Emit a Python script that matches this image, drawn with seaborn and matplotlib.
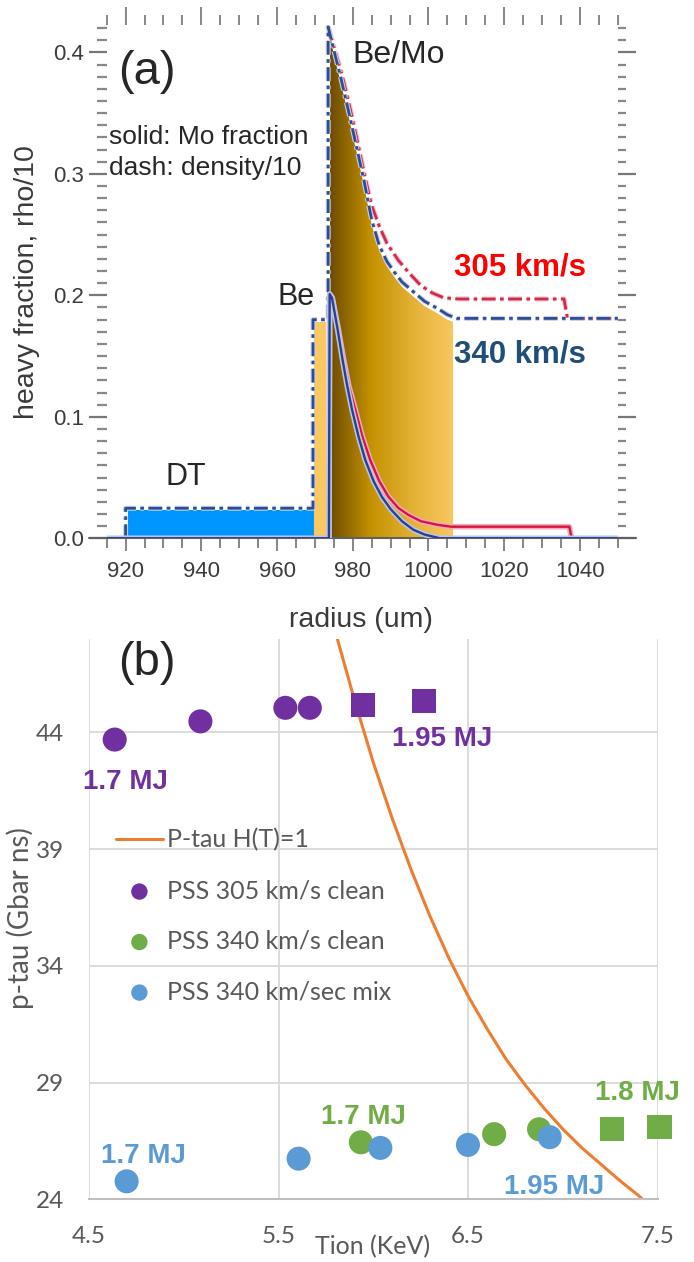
import numpy as np
import matplotlib
matplotlib.use("Agg")
import matplotlib.pyplot as plt
import matplotlib.patheffects as pe
from matplotlib.colors import LinearSegmentedColormap
from matplotlib.ticker import MultipleLocator
import seaborn as sns

# ---- (a) radial profiles, radius in um ----
dt_r = [920.6, 969.7]
dt_top = [0.0233, 0.0233]
be_r = [969.8, 973.0]
be_top = [0.178, 0.178]
bemo_r = [974.0, 975, 977, 979, 981, 983, 985, 987, 989, 991, 993, 996, 999, 1002.5, 1005, 1006.5]
bemo_top = [0.415, 0.398, 0.373, 0.346, 0.318, 0.290, 0.258, 0.237, 0.224, 0.215, 0.207, 0.199,
            0.191, 0.185, 0.180, 0.178]

# density/10 (dash-dot)
rho340_r = [920, 920, 969.5, 969.5, 973.5, 973.5, 975, 977, 979, 981, 983, 985, 987, 989, 991, 993,
            996, 999, 1002.5, 1005, 1007.5, 1050]
rho340 = [0, 0.0247, 0.0247, 0.18, 0.18, 0.421, 0.402, 0.377, 0.350, 0.322, 0.294, 0.262, 0.241,
          0.228, 0.219, 0.211, 0.203, 0.195, 0.189, 0.184, 0.181, 0.181]
rho305_r = [973.5, 975.2, 977.3, 979.3, 981.3, 983.2, 985, 987, 989, 992, 995, 998, 1001, 1004,
            1008, 1035.8, 1036.7, 1050]
rho305 = [0.421, 0.403, 0.380, 0.354, 0.326, 0.298, 0.274, 0.257, 0.243, 0.229, 0.218, 0.208,
          0.202, 0.198, 0.197, 0.197, 0.181, 0.181]

# Mo fraction (solid)
mo340_r = [915, 973.7, 973.9, 974.5, 976, 977.3, 978.5, 979.8, 981.5, 983.3, 985.5, 987.7, 990,
           993, 996, 999, 1003, 1050]
mo340 = [0, 0, 0.201, 0.198, 0.172, 0.147, 0.126, 0.106, 0.084, 0.0645, 0.047, 0.034, 0.024,
         0.014, 0.007, 0.003, 0, 0]
mo305_r = [973.7, 973.9, 974.6, 976.2, 977.6, 979, 980.7, 982.5, 984.6, 987, 989.4, 992, 994.7,
           998, 1002.5, 1006, 1037.2, 1037.8]
mo305 = [0, 0.201, 0.198, 0.172, 0.147, 0.125, 0.1056, 0.084, 0.0645, 0.047, 0.0343, 0.025,
         0.0192, 0.014, 0.011, 0.0095, 0.0095, 0]

# ---- (b) p-tau vs Tion ----
ptau_T = [5.80, 5.90, 6.00, 6.10, 6.20, 6.30, 6.40, 6.50, 6.60, 6.70, 6.80, 6.90, 7.00, 7.10,
          7.20, 7.30, 7.40, 7.42]
ptau_H1 = [48.3, 45.4, 42.7, 40.3, 38.1, 36.1, 34.3, 32.7, 31.3, 30.0, 28.9, 27.9, 27.0, 26.2,
           25.5, 24.8, 24.15, 24.0]

pss305_T = [4.636, 5.088, 5.536, 5.665]
pss305_pt = [43.69, 44.47, 45.05, 45.05]
pss305_sq_T = [5.945, 6.265]
pss305_sq_pt = [45.19, 45.36]

pss340_T = [5.934, 6.637, 6.874]
pss340_pt = [26.44, 26.79, 27.0]
pss340_sq_T = [7.261, 7.509]
pss340_sq_pt = [27.01, 27.1]

mix340_T = [4.699, 5.606, 6.037, 6.499, 6.930]
mix340_pt = [24.77, 25.74, 26.2, 26.33, 26.66]

sns.set_style("white")
plt.rcParams['font.family'] = ['Liberation Sans', 'DejaVu Sans']

fig = plt.figure(figsize=(6.94, 12.62), dpi=100)

# ================= (a) =================
ax = fig.add_axes([0.1537, 0.5735, 0.7365, 0.4067])

ax.fill_between(dt_r, 0, dt_top, color='#0096FF', lw=0, zorder=1)
ax.fill_between(be_r, 0, be_top, color='#F9C860', lw=0, zorder=1)
poly = ax.fill_between(bemo_r, 0, bemo_top, facecolor='none', lw=0, zorder=1)
gold = LinearSegmentedColormap.from_list('gold', [(0, '#6E4C00'), (0.33, '#C49200'),
                                                  (0.7, '#E6B43A'), (1, '#F8C862')])
im = ax.imshow(np.linspace(0, 1, 256).reshape(1, -1), cmap=gold, aspect='auto',
               extent=[bemo_r[0], bemo_r[-1], 0, max(bemo_top)], zorder=1)
im.set_clip_path(poly.get_paths()[0], transform=ax.transData)

dashdot = (0, (5, 1.6, 1.3, 1.6))
sns.lineplot(x=rho305_r, y=rho305, sort=False, estimator=None, color='#D2284C', lw=2.0, ax=ax)
ax.lines[-1].set_linestyle(dashdot)
ax.lines[-1].set_path_effects([pe.Stroke(linewidth=3.6, foreground='#F6C4CE'), pe.Normal()])
sns.lineplot(x=rho340_r, y=rho340, sort=False, estimator=None, color='#2E4C96', lw=2.0, ax=ax)
ax.lines[-1].set_linestyle(dashdot)
ax.lines[-1].set_path_effects([pe.Stroke(linewidth=3.6, foreground='#C8D2EA'), pe.Normal()])

sns.lineplot(x=mo305_r, y=mo305, sort=False, estimator=None, color='#D4163E', lw=1.7, ax=ax)
ax.lines[-1].set_path_effects([pe.Stroke(linewidth=4.0, foreground='#F3A9B8'), pe.Normal()])
sns.lineplot(x=mo340_r, y=mo340, sort=False, estimator=None, color='#2B3F8F', lw=1.7, ax=ax)
ax.lines[-1].set_path_effects([pe.Stroke(linewidth=4.0, foreground='#B9C6E6'), pe.Normal()])
for ln in ax.lines:
    ln.set_zorder(3)

ax.set_xlim(915, 1050)
ax.set_ylim(0, 0.4226)
for s in ax.spines.values():
    s.set_visible(False)
ax.plot([-0.035, 1.035], [0, 0], transform=ax.get_yaxis_transform(), color='#606060', lw=1.5,
        clip_on=False, zorder=2)

ax.set_xticks(np.arange(920, 1041, 20))
ax.xaxis.set_minor_locator(MultipleLocator(5))
ax.set_yticks([0.0, 0.1, 0.2, 0.3, 0.4])
ax.set_yticklabels(['0.0', '0.1', '0.2', '0.3', '0.4'])
ax.yaxis.set_minor_locator(MultipleLocator(0.01))
ax.tick_params(axis='x', which='major', bottom=True, direction='out', length=9.5, width=1.1,
               color='#666666', labelsize=16, labelcolor='#3c3c3c', pad=7)
ax.tick_params(axis='x', which='minor', bottom=True, direction='out', length=7, width=1.1,
               color='#666666')
ax.tick_params(axis='y', which='major', left=True, direction='out', length=12.8, width=1.6,
               color='#777777', labelsize=16, labelcolor='#3c3c3c', pad=3.5)
ax.tick_params(axis='y', which='minor', left=True, direction='out', length=7.5, width=1.6,
               color='#888888')

top = ax.secondary_xaxis('top')
top.set_xticks(np.arange(920, 1041, 20))
top.xaxis.set_minor_locator(MultipleLocator(5))
top.tick_params(which='major', direction='out', length=13, width=1.1, color='#666666',
                labeltop=False)
top.tick_params(which='minor', direction='out', length=7, width=1.1, color='#666666')
right = ax.secondary_yaxis('right')
right.set_yticks([0.0, 0.1, 0.2, 0.3, 0.4])
right.yaxis.set_minor_locator(MultipleLocator(0.01))
right.tick_params(which='major', direction='out', length=13, width=1.6, color='#777777',
                  labelright=False)
right.tick_params(which='minor', direction='out', length=6, width=1.6, color='#888888')
for sec in (top, right):
    for s in sec.spines.values():
        s.set_visible(False)

ax.text(925.5, 0.384, '(a)', fontsize=34, ha='center', va='center')
ax.text(992.0, 0.398, 'Be/Mo', fontsize=23, ha='center', va='center')
ax.text(915.6, 0.3304, 'solid: Mo fraction', fontsize=19, ha='left', va='center')
ax.text(915.6, 0.305, 'dash: density/10', fontsize=19, ha='left', va='center')
ax.text(965.0, 0.1987, 'Be', fontsize=22, ha='center', va='center')
ax.text(935.8, 0.0507, 'DT', fontsize=22, ha='center', va='center')
ax.text(1024.1, 0.2226, '305 km/s', fontsize=22.5, fontweight='bold', color='#FF0000',
        ha='center', va='center')
ax.text(1024.1, 0.151, '340 km/s', fontsize=22.5, fontweight='bold', color='#1F4E79',
        ha='center', va='center')

fig.text(0.0385, 0.7765, 'heavy fraction, rho/10', rotation=90, fontsize=20.5, color='#3a3a3a',
         ha='center', va='center')
fig.text(0.520, 0.5087, 'radius (um)', fontsize=20.5, color='#3a3a3a', ha='center', va='center')

# ================= (b) =================
ax2 = fig.add_axes([0.1281, 0.0497, 0.8197, 0.4440])
purple, green, blue, orange = '#7030A0', '#70AD47', '#5B9BD5', '#ED7D31'

sns.lineplot(x=ptau_T, y=ptau_H1, sort=False, estimator=None, color=orange, lw=2.2,
             label='P-tau H(T)=1', ax=ax2)
sns.scatterplot(x=pss305_T, y=pss305_pt, color=purple, s=300, marker='o', edgecolor='none',
                label='PSS 305 km/s clean', ax=ax2, clip_on=False, zorder=4)
sns.scatterplot(x=pss305_sq_T, y=pss305_sq_pt, color=purple, s=300, marker='s',
                edgecolor='none', ax=ax2, clip_on=False, zorder=4)
sns.scatterplot(x=pss340_T, y=pss340_pt, color=green, s=300, marker='o', edgecolor='none',
                label='PSS 340 km/s clean', ax=ax2, clip_on=False, zorder=4)
sns.scatterplot(x=pss340_sq_T, y=pss340_sq_pt, color=green, s=300, marker='s',
                edgecolor='none', ax=ax2, clip_on=False, zorder=4)
sns.scatterplot(x=mix340_T, y=mix340_pt, color=blue, s=300, marker='o', edgecolor='none',
                label='PSS 340 km/sec mix', ax=ax2, clip_on=False, zorder=5)

ax2.set_xlim(4.5, 7.5)
ax2.set_ylim(24, 48)
ax2.set_xticks([4.5, 5.5, 6.5, 7.5])
ax2.set_xticklabels(['4.5', '5.5', '6.5', '7.5'])
ax2.set_yticks([24, 29, 34, 39, 44])
ax2.grid(True, color='#d9d9d9', lw=1.3)
ax2.set_axisbelow(True)
for k in ('top', 'right', 'left'):
    ax2.spines[k].set_visible(False)
ax2.spines['bottom'].set_color('#bfbfbf')
ax2.spines['bottom'].set_linewidth(1.5)
ax2.tick_params(length=0, labelsize=17.5, labelcolor='#595959')
ax2.tick_params(axis='y', pad=18)
ax2.tick_params(axis='x', pad=19)
for lbl in ax2.get_xticklabels() + ax2.get_yticklabels():
    lbl.set_family(['Lato', 'DejaVu Sans'])
ax2.set_xlabel('')
ax2.set_ylabel('')

leg = ax2.legend(loc='upper left', bbox_to_anchor=(0.047, 0.662), frameon=False,
                 prop={'family': ['Lato', 'DejaVu Sans'], 'size': 18}, handlelength=1.9,
                 handletextpad=0.15, labelspacing=1.1, borderpad=0, borderaxespad=0,
                 markerscale=0.68)
for t in leg.get_texts():
    t.set_color('#595959')

bold = dict(fontsize=20, fontweight='bold', ha='center', va='center')
ax2.text(4.805, 46.98, '(b)', fontsize=34, ha='center', va='center')
ax2.text(4.694, 41.86, '1.7 MJ', color=purple, **bold)
ax2.text(6.361, 43.73, '1.95 MJ', color=purple, **bold)
ax2.text(5.946, 27.54, '1.7 MJ', color=green, **bold)
ax2.text(7.392, 28.57, '1.8 MJ', color=green, **bold)
ax2.text(4.788, 25.86, '1.7 MJ', color=blue, **bold)
ax2.text(6.955, 24.51, '1.95 MJ', color=blue, **bold)

fig.text(0.5375, 0.0121, 'Tion (KeV)', fontsize=18, color='#595959', family=['Lato', 'DejaVu Sans'],
         ha='center', va='center')
fig.text(0.0288, 0.2726, 'p-tau (Gbar ns)', rotation=90, fontsize=20, color='#595959',
         family=['Lato', 'DejaVu Sans'], ha='center', va='center')

fig.savefig('out.png', dpi=100)
